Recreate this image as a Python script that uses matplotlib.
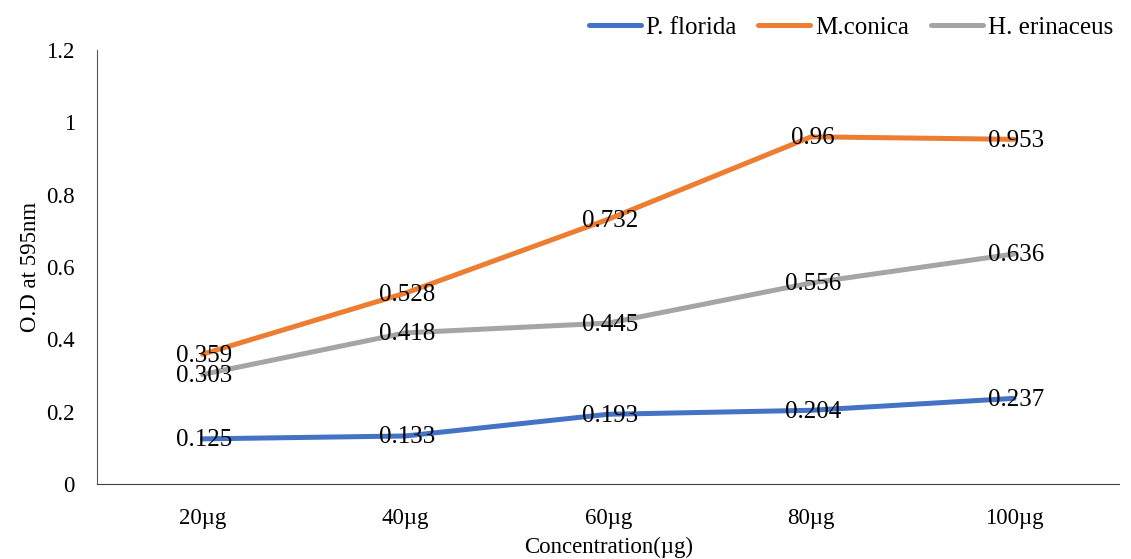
import numpy as np
import matplotlib.pyplot as plt

plt.rcParams['font.family'] = ['Liberation Serif', 'DejaVu Serif']

concentrations = ['20µg', '40µg', '60µg', '80µg', '100µg']
p_florida = [0.125, 0.133, 0.193, 0.204, 0.237]
m_conica = [0.359, 0.528, 0.732, 0.96, 0.953]
h_erinaceus = [0.303, 0.418, 0.445, 0.556, 0.636]

series = [
    ('P. florida', p_florida, '#4472C4'),
    ('M.conica', m_conica, '#ED7D31'),
    ('H. erinaceus', h_erinaceus, '#A5A5A5'),
]

fig = plt.figure(figsize=(11.31, 5.59), dpi=100)
ax = fig.add_axes([0.0858, 0.134, 0.904, 0.7766])

x = np.arange(len(concentrations))
for name, vals, color in series:
    ax.plot(x, vals, color=color, lw=3.6, label=name, solid_capstyle='round')
for name, vals, color in series:
    for xi, v in zip(x, vals):
        ax.text(xi + 0.01, v - 0.004, f'{v:g}', ha='center', va='center', fontsize=18)

ax.set_xlim(-0.52, 4.52)
ax.set_ylim(0, 1.2)
ax.set_yticks(np.arange(0, 1.21, 0.2))
ax.set_yticklabels(['0', '0.2', '0.4', '0.6', '0.8', '1', '1.2'])
ax.set_xticks(x)
ax.set_xticklabels(concentrations)
ax.tick_params(length=0, labelsize=16.5)
ax.tick_params(axis='y', pad=16)
ax.tick_params(axis='x', pad=17)

for s in ['top', 'right']:
    ax.spines[s].set_visible(False)
ax.spines['left'].set_color('#595959')
ax.spines['bottom'].set_color('#404040')

ax.set_ylabel('O.D at 595nm', fontsize=16.5, labelpad=4)
ax.set_xlabel('Concentration(µg)', fontsize=16.5, labelpad=6)

ax.legend(loc='upper right', bbox_to_anchor=(1.016, 1.13), ncol=3, frameon=False,
          fontsize=18, handlelength=2.1, handletextpad=0.2, columnspacing=0.85)

fig.savefig('out.png', dpi=100)
